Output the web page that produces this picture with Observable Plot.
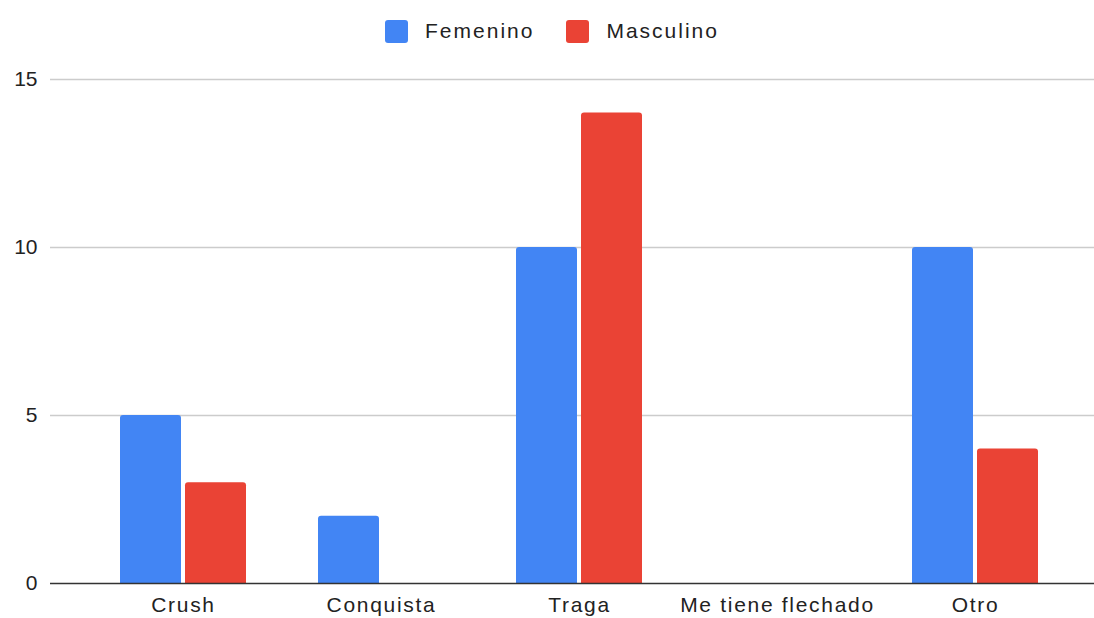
<!DOCTYPE html>
<html>
<head>
<meta charset="utf-8">
<script src="https://cdn.jsdelivr.net/npm/d3@7"></script>
<script src="https://cdn.jsdelivr.net/npm/@observablehq/plot@0.6"></script>
<style>
  html, body { margin: 0; padding: 0; background: #fff; }
  body { width: 1094px; height: 618px; overflow: hidden; font-family: "Liberation Sans", Arial, sans-serif; }
  #legend { height: 56px; display: flex; justify-content: center; align-items: flex-start; padding-left: 10px; box-sizing: border-box; }
  .item { display: flex; align-items: center; margin: 19px 16px 0 16px; font-size: 21px; letter-spacing: 2px; color: #222; }
  .sw { width: 23px; height: 23px; border-radius: 3px; margin-right: 17px; }
  #chart svg g[aria-label="x-axis tick label"] text { letter-spacing: 1.7px; }
</style>
</head>
<body>
<div id="legend"></div>
<div id="chart"></div>
<script>
const categories = ["Crush", "Conquista", "Traga", "Me tiene flechado", "Otro"];
const series = ["Femenino", "Masculino"];
const femenino = [5, 2, 10, 0, 10];
const masculino = [3, 0, 14, 0, 4];
const colors = ["#4285F4", "#EA4335"];
const yTicks = [0, 5, 10, 15];

const rows = [];
categories.forEach((c, i) => {
  rows.push({category: c, serie: series[0], value: femenino[i]});
  rows.push({category: c, serie: series[1], value: masculino[i]});
});

const legend = document.getElementById("legend");
series.forEach((s, i) => {
  const it = document.createElement("div");
  it.className = "item";
  const sw = document.createElement("div");
  sw.className = "sw";
  sw.style.background = colors[i];
  const t = document.createElement("span");
  t.textContent = s;
  it.appendChild(sw);
  it.appendChild(t);
  legend.appendChild(it);
});

const chart = Plot.plot({
  width: 1094,
  height: 562,
  marginTop: 23,
  marginBottom: 35,
  marginLeft: 50,
  marginRight: 0,
  style: {fontFamily: "'Liberation Sans', Arial, sans-serif", fontSize: "21px", color: "#222", background: "#fff"},
  x: {domain: categories, range: [84, 1074], paddingInner: 0.3636, paddingOuter: 0.1818, tickSize: 0, tickPadding: 14, label: null},
  y: {domain: [0, 15], ticks: yTicks, tickSize: 0, tickPadding: 13, label: null},
  color: {domain: series, range: colors},
  marks: [
    Plot.ruleY(yTicks.filter(d => d > 0), {stroke: "#cccccc", strokeWidth: 1.3}),
    Plot.barY(rows.filter(d => d.serie === series[0] && d.value > 0), {x: "category", y: "value", fill: colors[0], insetRight: 65, ry1: 3, rx1y1: 3, rx2y1: 3}),
    Plot.barY(rows.filter(d => d.serie === series[1] && d.value > 0), {x: "category", y: "value", fill: colors[1], insetLeft: 65, ry1: 3, rx1y1: 3, rx2y1: 3}),
    Plot.ruleY([0], {stroke: "#333333", strokeWidth: 1.5})
  ]
});
document.getElementById("chart").appendChild(chart);
</script>
</body>
</html>
